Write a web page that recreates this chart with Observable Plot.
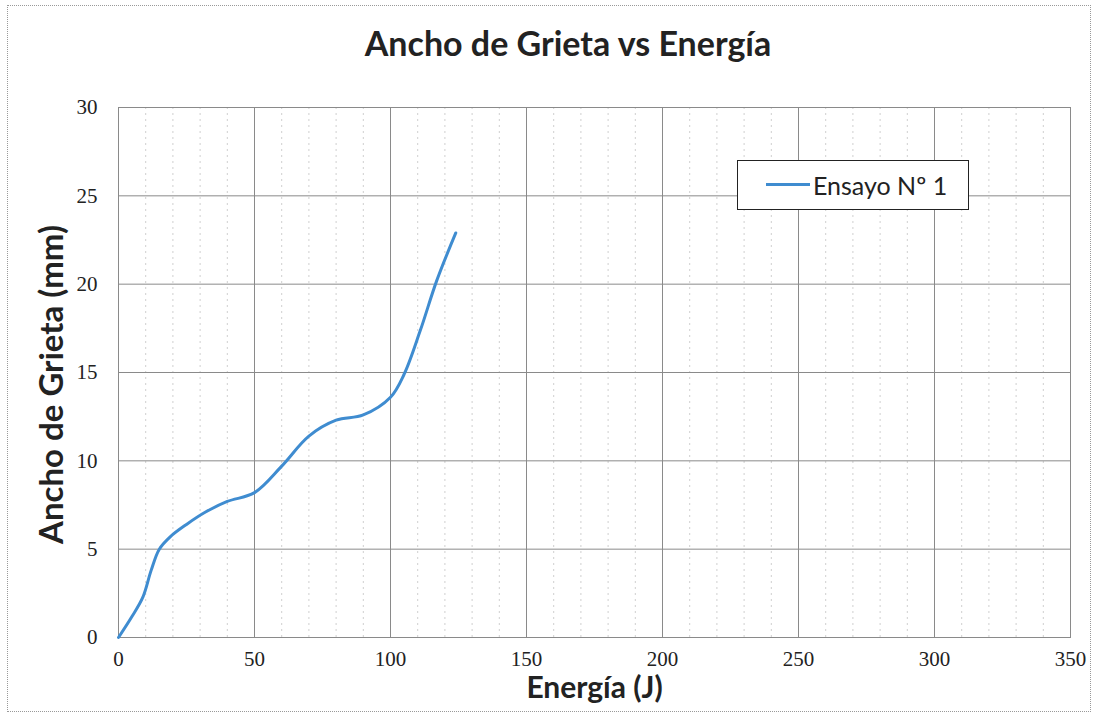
<!DOCTYPE html>
<html><head><meta charset="utf-8">
<script src="https://cdn.jsdelivr.net/npm/d3@7"></script>
<script src="https://cdn.jsdelivr.net/npm/@observablehq/plot@0.6"></script>
<style>
body{margin:0;background:#fff;}
#wrap{position:relative;width:1097px;height:721px;overflow:hidden;background:#fff;}
#border{position:absolute;left:7px;top:5px;width:1084px;height:707px;border:1px dotted #999;box-sizing:border-box;pointer-events:none;}
#title{position:absolute;left:0;top:0;width:1136px;height:86px;line-height:86px;text-align:center;font-family:Lato,"Open Sans",sans-serif;font-weight:bold;font-size:34px;color:#222;}
#chart{position:absolute;left:0;top:90px;}
#legend{position:absolute;left:737px;top:160px;width:232px;height:50px;border:1px solid #222;background:#fff;box-sizing:border-box;}
#legend .sw{position:absolute;left:28px;top:22px;width:44px;height:3px;background:#3f8cd0;}
#legend .lb{position:absolute;left:75px;top:0;height:48px;line-height:48px;font-family:Lato,"Open Sans",sans-serif;font-size:25px;color:#222;}
</style></head>
<body>
<div id="wrap">
  <div id="title">Ancho de Grieta vs Energía</div>
  <div id="chart"></div>
  <div id="legend"><div class="sw"></div><div class="lb">Ensayo Nº 1</div></div>
  <div id="border"></div>
</div>
<script>
const energia = [0, 5, 9, 12, 15, 19, 25, 32, 40, 50, 60, 70, 80, 90, 100, 105, 111, 117, 124];
const ancho   = [0, 1.2, 2.3, 3.8, 5.0, 5.7, 6.4, 7.1, 7.7, 8.2, 9.7, 11.4, 12.3, 12.6, 13.6, 14.9, 17.4, 20.2, 22.9];
const xTicks = [0, 50, 100, 150, 200, 250, 300, 350];
const xMinor = [10, 20, 30, 40, 60, 70, 80, 90, 110, 120, 130, 140, 160, 170, 180, 190, 210, 220, 230, 240, 260, 270, 280, 290, 310, 320, 330, 340];
const yTicks = [0, 5, 10, 15, 20, 25, 30];
const seriesName = "Ensayo Nº 1";

const data = energia.map((e, i) => ({x: e, y: ancho[i], s: seriesName}));

const tickFont = "'Liberation Serif', serif";
const labFont = "Lato, 'Open Sans', sans-serif";

const chart = Plot.plot({
  width: 1097,
  height: 631,
  marginTop: 17,
  marginBottom: 84,
  marginLeft: 118,
  marginRight: 27,
  x: {domain: [0, 350], axis: null},
  y: {domain: [0, 30], axis: null},
  style: {background: "transparent", overflow: "visible"},
  marks: [
    Plot.ruleX(xMinor, {stroke: "#cfcfcf", strokeWidth: 1, strokeDasharray: "2,4"}),
    Plot.ruleX(xTicks, {stroke: "#8a8a8a", strokeWidth: 1}),
    Plot.ruleY(yTicks, {stroke: "#8a8a8a", strokeWidth: 1}),
    Plot.frame({stroke: "#8a8a8a"}),
    Plot.text(xTicks, {x: d => d, frameAnchor: "bottom", dy: 28, text: d => String(d), fontSize: 21, fontFamily: tickFont, fill: "#222"}),
    Plot.text(yTicks, {y: d => d, frameAnchor: "left", dx: -21, textAnchor: "end", text: d => String(d), fontSize: 21, fontFamily: tickFont, fill: "#222"}),
    Plot.line(data, {x: "x", y: "y", z: "s", curve: "catmull-rom", stroke: "#3f8cd0", strokeWidth: 3}),
    Plot.text(["Energía (J)"], {frameAnchor: "bottom", dy: 60, fontSize: 30, fontWeight: "bold", fontFamily: labFont, fill: "#222"}),
    Plot.text(["Ancho de Grieta (mm)"], {frameAnchor: "left", dx: -66, dy: 12, rotate: -90, textAnchor: "middle", fontSize: 33, fontWeight: "bold", fontFamily: labFont, fill: "#222"})
  ]
});
document.getElementById("chart").appendChild(chart);
</script>
</body></html>
